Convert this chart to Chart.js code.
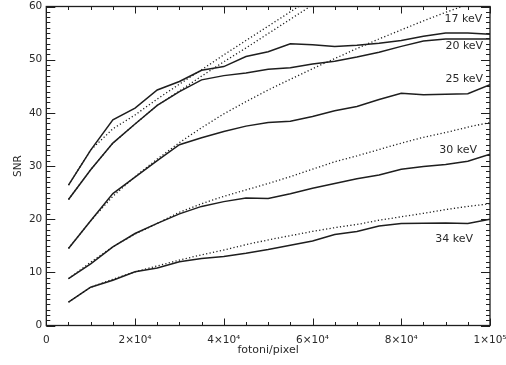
<!DOCTYPE html>
<html lang="it">
<head>
<meta charset="utf-8">
<title>SNR - fotoni/pixel</title>
<script src="https://cdn.jsdelivr.net/npm/chart.js@4.4.0/dist/chart.umd.min.js"></script>
<style>
  html, body { margin: 0; padding: 0; background: #fff; overflow: hidden; }
</style>
</head>
<body>
<canvas id="grafico" width="506" height="365"></canvas>
<script>
// ==================================================
// SNR in funzione dei fotoni per pixel
// ==================================================

// ===================== DATI =====================
const fotoni = [5000, 10000, 15000, 20000, 25000, 30000, 35000, 40000, 45000, 50000,
                55000, 60000, 65000, 70000, 75000, 80000, 85000, 90000, 95000, 100000];

// curve misurate (linea continua)
const snr17 = [26.4, 33.0, 38.7, 40.9, 44.3, 45.9, 48.0, 48.7, 50.6, 51.5, 53.0, 52.8, 52.5, 52.7, 53.1, 53.6, 54.4, 55.0, 55.0, 54.8];
const snr20 = [23.7, 29.3, 34.3, 37.9, 41.4, 44.0, 46.2, 47.0, 47.5, 48.2, 48.5, 49.2, 49.7, 50.5, 51.4, 52.5, 53.5, 53.9, 53.9, 53.9];
const snr25 = [14.5, 19.7, 24.8, 27.9, 31.0, 34.0, 35.3, 36.5, 37.5, 38.2, 38.4, 39.3, 40.4, 41.2, 42.5, 43.7, 43.4, 43.5, 43.6, 45.3];
const snr30 = [8.8, 11.6, 14.8, 17.3, 19.2, 21.0, 22.4, 23.3, 24.0, 23.9, 24.8, 25.8, 26.7, 27.6, 28.3, 29.4, 29.9, 30.3, 30.9, 32.2];
const snr34 = [4.4, 7.2, 8.5, 10.1, 10.8, 12.0, 12.6, 13.0, 13.6, 14.3, 15.1, 15.9, 17.1, 17.7, 18.7, 19.2, 19.25, 19.3, 19.2, 20.0];

// curve teoriche (punteggiate), tagliate sopra 60
const teo17 = [26.4, 33.0, 37.0, 39.6, 42.6, 45.4, 48.1, 50.9, 53.6, 56.3, 59.0, 61.7];
const teo20 = [23.7, 29.3, 34.3, 37.9, 41.4, 44.1, 46.9, 49.6, 52.2, 54.9, 57.6, 60.3, 62.9];
const teo25 = [14.5, 19.7, 24.3, 28.0, 31.3, 34.4, 37.2, 39.8, 42.1, 44.3, 46.3, 48.3, 50.2, 52.1, 53.9, 55.6, 57.3, 58.9, 60.4, 62.0];
const teo30 = [8.8, 11.9, 14.8, 17.2, 19.2, 21.3, 22.9, 24.3, 25.5, 26.7, 28.0, 29.4, 30.8, 31.9, 33.1, 34.3, 35.4, 36.3, 37.3, 38.2];
const teo34 = [4.4, 7.2, 8.7, 10.1, 11.2, 12.3, 13.3, 14.2, 15.2, 16.1, 16.9, 17.7, 18.4, 19.0, 19.8, 20.45, 21.1, 21.8, 22.4, 22.9];

const energie = ['17 keV', '20 keV', '25 keV', '30 keV', '34 keV'];

const tickX = [0, 20000, 40000, 60000, 80000, 100000];
const etichetteX = ['0', '2×10⁴', '4×10⁴', '6×10⁴', '8×10⁴', '1×10⁵'];
const tickY = [0, 10, 20, 30, 40, 50, 60];

// ===================== STILE =====================
const COLORE = '#1e1e1e';
const COLORE_TESTO = '#2a2a2a';
const FONT = 'DejaVu Sans';

// posizione delle etichette delle energie (unita' dei dati)
const posEnergie = [
    { x: 94000, y: 57.7 },
    { x: 94200, y: 52.6 },
    { x: 94200, y: 46.3 },
    { x: 92800, y: 33.0 },
    { x: 91900, y: 16.2 }
];

function punti(valori) {
    return valori.map((v, i) => ({ x: fotoni[i], y: v }));
}

function serie(valori, punteggiata) {
    return {
        data: punti(valori),
        borderColor: COLORE,
        borderWidth: punteggiata ? 1.3 : 1.5,
        borderDash: punteggiata ? [1.2, 2.3] : [],
        pointRadius: 0,
        tension: 0,
        fill: false
    };
}

// ===================== CORNICE E TACCHE =====================
// stile IDL: cornice chiusa, tacche verso l'interno su tutti i lati
const cornicePlugin = {
    id: 'cornice',
    afterDatasetsDraw(chart) {
        const { ctx, chartArea: a, scales: { x, y } } = chart;
        ctx.save();
        ctx.strokeStyle = COLORE;
        ctx.lineWidth = 1.3;
        ctx.strokeRect(a.left, a.top, a.right - a.left, a.bottom - a.top);

        ctx.lineWidth = 1;
        ctx.beginPath();
        for (let v = 0; v <= 100000; v += 5000) {
            const px = Math.round(x.getPixelForValue(v)) + 0.5;
            const l = v % 20000 === 0 ? 7 : 3.5;
            ctx.moveTo(px, a.bottom); ctx.lineTo(px, a.bottom - l);
            ctx.moveTo(px, a.top); ctx.lineTo(px, a.top + l);
        }
        for (let v = 0; v <= 60; v++) {
            const py = Math.round(y.getPixelForValue(v)) + 0.5;
            const l = v % 10 === 0 ? 9 : 4;
            ctx.moveTo(a.left, py); ctx.lineTo(a.left + l, py);
            ctx.moveTo(a.right, py); ctx.lineTo(a.right - l, py);
        }
        ctx.stroke();

        // etichette delle energie
        ctx.fillStyle = COLORE_TESTO;
        ctx.font = '11px "' + FONT + '"';
        ctx.textAlign = 'center';
        ctx.textBaseline = 'middle';
        energie.forEach((e, i) => {
            ctx.fillText(e, x.getPixelForValue(posEnergie[i].x), y.getPixelForValue(posEnergie[i].y));
        });
        ctx.restore();
    }
};

// ===================== GRAFICO =====================
Chart.defaults.font.family = FONT;
Chart.defaults.color = COLORE_TESTO;

new Chart(document.getElementById('grafico'), {
    type: 'line',
    data: {
        datasets: [
            serie(snr17, false), serie(snr20, false), serie(snr25, false), serie(snr30, false), serie(snr34, false),
            serie(teo17, true), serie(teo20, true), serie(teo25, true), serie(teo30, true), serie(teo34, true)
        ]
    },
    options: {
        responsive: false,
        animation: false,
        devicePixelRatio: 1,
        layout: { padding: { left: 8, right: 16, top: 6.5, bottom: 3 } },
        plugins: { legend: { display: false }, tooltip: { enabled: false } },
        scales: {
            x: {
                type: 'linear',
                min: 0,
                max: 100000,
                // altezza fissa e niente margini automatici per le etichette agli estremi
                afterFit: s => { s.height = 36.5; s.paddingLeft = 0; s.paddingRight = 0; },
                afterBuildTicks: s => { s.ticks = tickX.map(v => ({ value: v })); },
                grid: { display: false, drawTicks: false },
                border: { display: false },
                ticks: {
                    padding: 8,
                    maxRotation: 0,
                    font: { size: 10.5 },
                    callback: (v, i) => etichetteX[i]
                },
                title: { display: true, text: 'fotoni/pixel', font: { size: 11 }, padding: { top: 0, bottom: 5 } }
            },
            y: {
                min: 0,
                max: 60,
                afterFit: s => { s.width = 38.3; s.paddingTop = 0; s.paddingBottom = 0; },
                afterBuildTicks: s => { s.ticks = tickY.map(v => ({ value: v })); },
                grid: { display: false, drawTicks: false },
                border: { display: false },
                ticks: { padding: 4, font: { size: 10.5 } },
                title: { display: true, text: 'SNR', font: { size: 10.5 }, padding: { top: 4, bottom: 0 } }
            }
        }
    },
    plugins: [cornicePlugin]
});
</script>
</body>
</html>
